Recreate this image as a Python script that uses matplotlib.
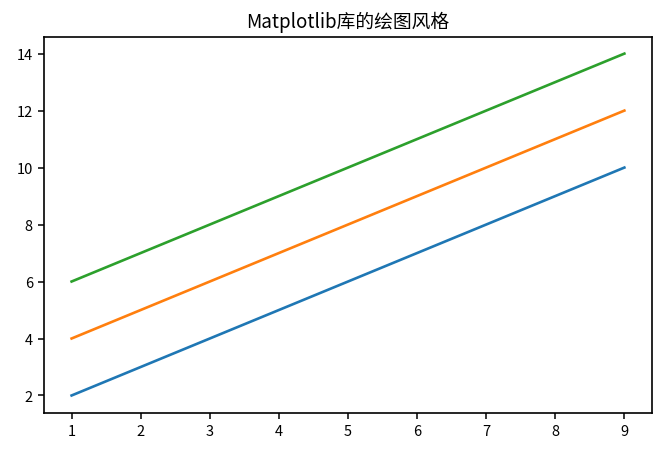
import matplotlib
matplotlib.use('Agg')
import matplotlib.pyplot as plt

plt.rcParams['font.family'] = ['Noto Sans CJK SC', 'DejaVu Sans']
plt.rcParams['axes.unicode_minus'] = False

x = [1, 2, 3, 4, 5, 6, 7, 8, 9]
y1 = [2, 3, 4, 5, 6, 7, 8, 9, 10]
y2 = [4, 5, 6, 7, 8, 9, 10, 11, 12]
y3 = [6, 7, 8, 9, 10, 11, 12, 13, 14]
title = 'Matplotlib库的绘图风格'

fig = plt.figure(figsize=(6.66, 4.52), dpi=100)
ax = fig.add_axes([0.066, 0.085, 0.913, 0.832])
for y in (y1, y2, y3):
    ax.plot(x, y, linewidth=1.9)
ax.set_title(title, fontsize=13.5, pad=7)
ax.tick_params(labelsize=10.5, width=1.1, length=4.5)
for s in ax.spines.values():
    s.set_linewidth(1.2)

fig.savefig('out.png', dpi=100)
